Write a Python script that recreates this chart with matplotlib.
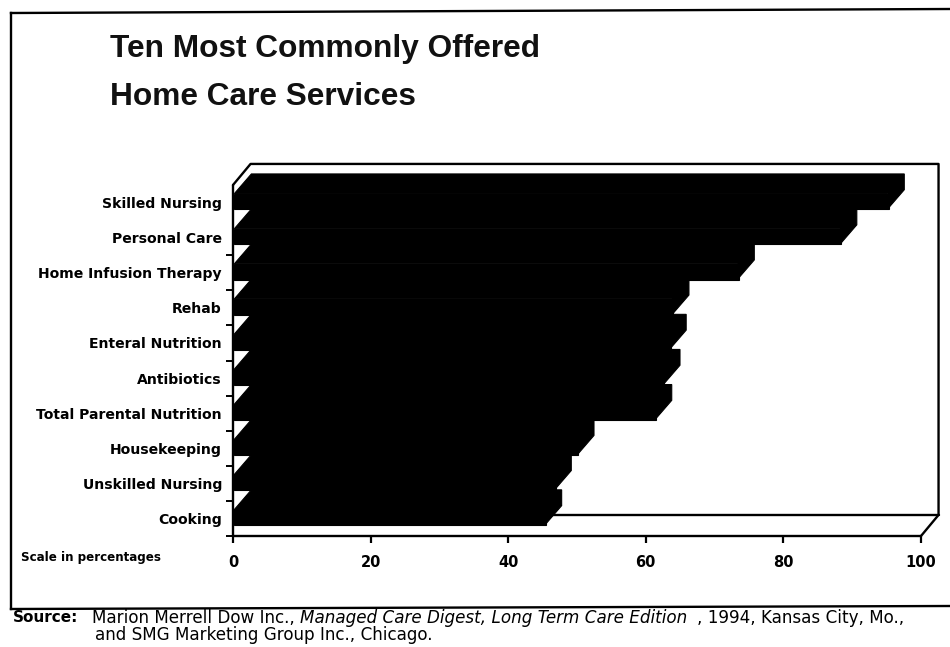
import numpy as np
import matplotlib
matplotlib.use('Agg')
import matplotlib.pyplot as plt
from matplotlib.lines import Line2D

plt.rcParams['font.family'] = ['Liberation Sans', 'DejaVu Sans']

services = ['Skilled Nursing', 'Personal Care', 'Home Infusion Therapy', 'Rehab',
            'Enteral Nutrition', 'Antibiotics', 'Total Parental Nutrition',
            'Housekeeping', 'Unskilled Nursing', 'Cooking']
percent = [95.1, 88.2, 73.3, 63.8, 63.4, 62.5, 61.3, 50.0, 46.7, 45.3]
x_ticks = [0, 20, 40, 60, 80, 100]

W, H = 950, 647


def fx(px):
    return px / W


def fy(py):
    return 1 - py / H


fig = plt.figure(figsize=(W / 100, H / 100), dpi=100)
ax = fig.add_axes([fx(233), fy(536), fx(921) - fx(233), fy(185) - fy(536)])
ax.set_xlim(0, 100)
ax.set_ylim(9.5, -0.5)
for s in ax.spines.values():
    s.set_visible(False)
ax.patch.set_alpha(0)

# depth of the fake 3d look, in data units
wall_dx, wall_dy = 2.55, 0.6
bar_dx, bar_dy = 2.47, 0.56
bar_h = 0.45
y_pos = np.arange(len(services)) - 0.03

ax.barh(y_pos, percent, height=bar_h, color='black', left=0.2, edgecolor='black', lw=0.8)
for y, v in zip(y_pos, percent):
    top = y - bar_h / 2
    bottom = y + bar_h / 2
    ax.fill([0.2, 0.2 + bar_dx, v + bar_dx, v + bar_dx, v, v],
            [top, top - bar_dy, top - bar_dy, bottom - bar_dy, bottom, top],
            facecolor='black', edgecolor='black', lw=0.8, clip_on=False)

# walls and floor
line = dict(color='black', lw=1.7, clip_on=False, solid_capstyle='round')
ax.plot([0, 0], [-0.5, 9.5], **line)
ax.plot([0, 100], [9.5, 9.5], **line)
ax.plot([0, wall_dx, 100 + wall_dx, 100 + wall_dx, 100],
        [-0.5, -0.5 - wall_dy, -0.5 - wall_dy, 9.5 - wall_dy, 9.5], **line)
ax.plot([wall_dx, 100 + wall_dx], [9.5 - wall_dy, 9.5 - wall_dy], zorder=1, **line)

ax.set_xticks(x_ticks)
ax.set_xticklabels([str(t) for t in x_ticks], fontweight='bold', fontsize=10.5,
                   family='DejaVu Sans')
ax.tick_params(axis='x', length=5, width=1.6, pad=9)
ax.set_yticks(np.arange(1.5, 10, 1))
ax.set_yticklabels([])
ax.tick_params(axis='y', length=5, width=1.4)
ax.set_yticks(np.arange(len(services)), minor=True)
ax.set_yticklabels(services, minor=True, fontweight='bold', fontsize=10.1, family='DejaVu Sans')
ax.tick_params(axis='y', which='minor', length=0, pad=8)

# page frame
frame = dict(color='black', lw=1.7, transform=fig.transFigure)
fig.add_artist(Line2D([fx(11), fx(11)], [fy(13), fy(609)], **frame))
fig.add_artist(Line2D([fx(11), fx(950)], [fy(13), fy(9)], **frame))
fig.add_artist(Line2D([fx(11), fx(950)], [fy(609), fy(606)], **frame))

fig.text(fx(110), fy(49), 'Ten Most Commonly Offered', fontsize=22.8, fontweight='bold',
         va='center', color='#111111')
fig.text(fx(110), fy(97), 'Home Care Services', fontsize=22.8, fontweight='bold',
         va='center', color='#111111')

fig.text(fx(21), fy(558), 'Scale in percentages', fontsize=8.6, fontweight='bold', va='center',
         family='DejaVu Sans')

src = dict(fontsize=12.1, va='center', family='DejaVu Sans')
fig.text(fx(13), fy(618), 'Source:', fontweight='bold', **dict(src, fontsize=11))
fig.text(fx(92), fy(618), 'Marion Merrell Dow Inc.,', **src)
fig.text(fx(300), fy(618), 'Managed Care Digest, Long Term Care Edition', style='italic', **src)
fig.text(fx(697), fy(618), ', 1994, Kansas City, Mo.,', **src)
fig.text(fx(95), fy(635), 'and SMG Marketing Group Inc., Chicago.', **src)

fig.savefig('out.png', dpi=100)
